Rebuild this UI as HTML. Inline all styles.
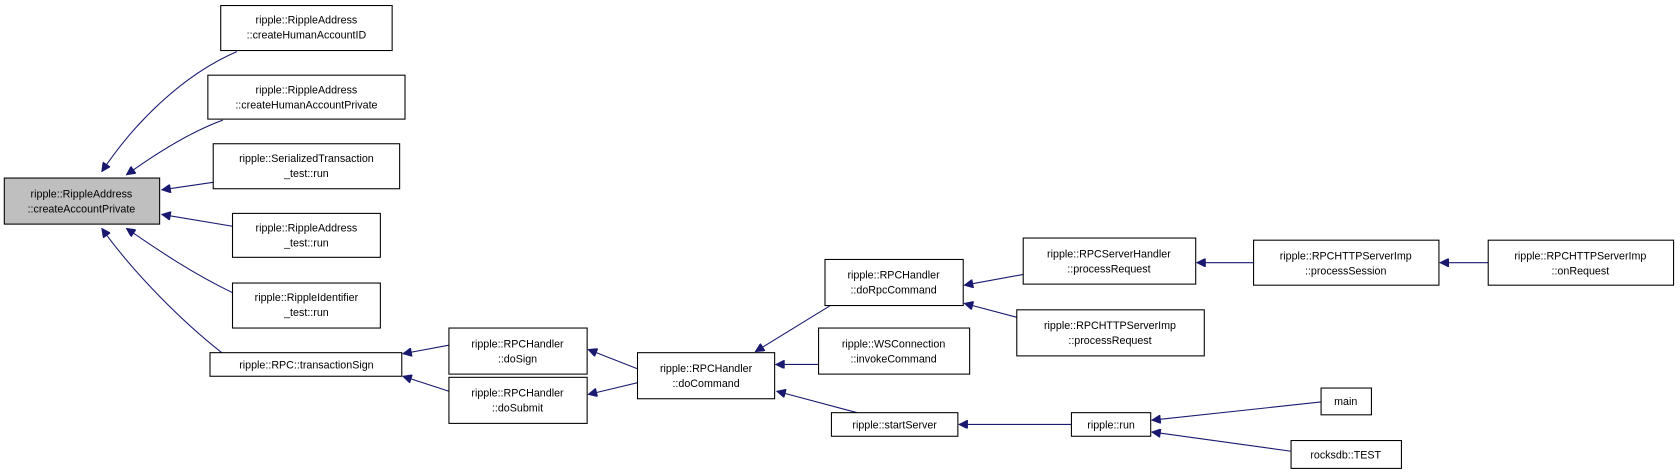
<!DOCTYPE html>
<html><head><meta charset="utf-8"><style>
html,body{margin:0;padding:0;background:#fff;}
svg{display:block;}
text{font-family:"Liberation Sans",sans-serif;font-size:10px;fill:#000;text-anchor:middle;}
rect{fill:#fff;stroke:#000;stroke-width:1;}
path{fill:none;stroke:#191970;stroke-width:1;}
</style></head><body>
<svg width="1680" height="475" viewBox="0 0 1568 443" xmlns="http://www.w3.org/2000/svg">
<defs><marker id="a" viewBox="0 0 10 10" refX="10" refY="5" markerWidth="10" markerHeight="8" markerUnits="userSpaceOnUse" orient="auto"><path d="M0,0 L10,5 L0,10 Z" style="fill:#191970;stroke:#191970"/></marker></defs>
<g>
<path d="M221,48 C170,70 125,115 95,160" marker-end="url(#a)"/>
<path d="M208,112 C180,122 150,140 118,163" marker-end="url(#a)"/>
<path d="M199,170 L151,177" marker-end="url(#a)"/>
<path d="M217,211 L151,200" marker-end="url(#a)"/>
<path d="M217,273 C180,255 150,235 118,213" marker-end="url(#a)"/>
<path d="M207,329 C170,300 125,255 95,213" marker-end="url(#a)"/>
<path d="M419,322 L376,330" marker-end="url(#a)"/>
<path d="M419,365 L376,351" marker-end="url(#a)"/>
<path d="M595,344 L549,326" marker-end="url(#a)"/>
<path d="M595,357 L549,368" marker-end="url(#a)"/>
<path d="M775,285 L705,328" marker-end="url(#a)"/>
<path d="M764,340 L724,340" marker-end="url(#a)"/>
<path d="M800,385 L725,365" marker-end="url(#a)"/>
<path d="M955,256 L900,266" marker-end="url(#a)"/>
<path d="M949,296 L900,283" marker-end="url(#a)"/>
<path d="M1170,245 L1117,245" marker-end="url(#a)"/>
<path d="M1389,245 L1344,245" marker-end="url(#a)"/>
<path d="M1000,396 L895,396" marker-end="url(#a)"/>
<path d="M1233,375 L1075,392" marker-end="url(#a)"/>
<path d="M1205,421 L1075,403" marker-end="url(#a)"/>
</g>
<rect x="4" y="166" width="145" height="43" style="fill:#bfbfbf"/><text x="76" y="184">ripple::RippleAddress</text><text x="76" y="198">::createAccountPrivate</text>
<rect x="206" y="5" width="160" height="42"/><text x="286" y="22">ripple::RippleAddress</text><text x="286" y="36">::createHumanAccountID</text>
<rect x="194" y="70" width="184" height="41"/><text x="286" y="87">ripple::RippleAddress</text><text x="286" y="101">::createHumanAccountPrivate</text>
<rect x="199" y="134" width="174" height="42"/><text x="286" y="151">ripple::SerializedTransaction</text><text x="286" y="165">_test::run</text>
<rect x="217" y="199" width="138" height="41"/><text x="286" y="216">ripple::RippleAddress</text><text x="286" y="230">_test::run</text>
<rect x="217" y="264" width="138" height="42"/><text x="286" y="281">ripple::RippleIdentifier</text><text x="286" y="295">_test::run</text>
<rect x="196" y="329" width="179" height="22"/><text x="286" y="344">ripple::RPC::transactionSign</text>
<rect x="419" y="306" width="129" height="43"/><text x="483" y="324">ripple::RPCHandler</text><text x="483" y="338">::doSign</text>
<rect x="419" y="352" width="129" height="43"/><text x="483" y="370">ripple::RPCHandler</text><text x="483" y="384">::doSubmit</text>
<rect x="595" y="329" width="128" height="43"/><text x="659" y="347">ripple::RPCHandler</text><text x="659" y="361">::doCommand</text>
<rect x="770" y="242" width="129" height="43"/><text x="834" y="260">ripple::RPCHandler</text><text x="834" y="274">::doRpcCommand</text>
<rect x="764" y="306" width="141" height="43"/><text x="834" y="324">ripple::WSConnection</text><text x="834" y="338">::invokeCommand</text>
<rect x="776" y="385" width="118" height="22"/><text x="835" y="400">ripple::startServer</text>
<rect x="955" y="222" width="161" height="43"/><text x="1035" y="240">ripple::RPCServerHandler</text><text x="1035" y="254">::processRequest</text>
<rect x="949" y="289" width="175" height="43"/><text x="1036" y="307">ripple::RPCHTTPServerImp</text><text x="1036" y="321">::processRequest</text>
<rect x="1170" y="224" width="173" height="42"/><text x="1256" y="242">ripple::RPCHTTPServerImp</text><text x="1256" y="256">::processSession</text>
<rect x="1389" y="224" width="173" height="42"/><text x="1475" y="242">ripple::RPCHTTPServerImp</text><text x="1475" y="256">::onRequest</text>
<rect x="1000" y="385" width="74" height="22"/><text x="1037" y="400">ripple::run</text>
<rect x="1233" y="362" width="47" height="25"/><text x="1256" y="378">main</text>
<rect x="1205" y="411" width="103" height="26"/><text x="1256" y="428">rocksdb::TEST</text>
</svg>
</body></html>
